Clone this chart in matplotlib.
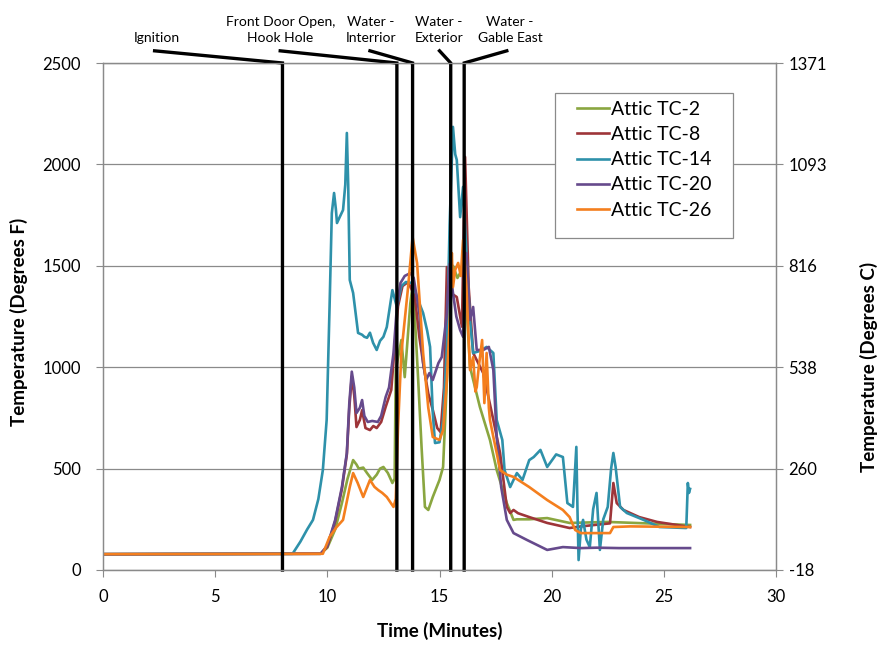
import matplotlib
matplotlib.use('Agg')
import matplotlib.pyplot as plt
from matplotlib.patches import Rectangle

plt.rcParams['font.family'] = ['Lato', 'DejaVu Sans']

# ---------------- data (time in minutes, temperature in deg F) ----------------
series_names = ["Attic TC-2", "Attic TC-8", "Attic TC-14", "Attic TC-20", "Attic TC-26"]
series_colors = ["#8AA640", "#9E3539", "#2E91AA", "#664A8C", "#F47F1E"]

tc2 = [(0, 78), (9.7, 80), (10.0, 110), (10.35, 200), (10.65, 330), (10.9, 450), (11.15, 542),
       (11.3, 520), (11.4, 500), (11.6, 505), (11.77, 478), (12.0, 444), (12.2, 470), (12.35, 500),
       (12.5, 508), (12.7, 478), (12.9, 429), (13.0, 450), (13.05, 986), (13.3, 1134), (13.45, 951),
       (13.7, 1316), (13.8, 1400), (13.9, 1250), (14.05, 937), (14.2, 607), (14.35, 311), (14.5, 296),
       (14.7, 360), (15.0, 444), (15.16, 508), (15.33, 937), (15.47, 1346), (15.6, 1500), (15.8, 1440),
       (16.0, 1480), (16.15, 1400), (16.36, 1001), (16.8, 804), (17.25, 641), (17.55, 493), (18.0, 330),
       (18.3, 247), (18.45, 250), (19.0, 250), (19.8, 256), (20.8, 232), (22.5, 237), (26.17, 222)]

tc8 = [(0, 78), (9.7, 80), (10.0, 115), (10.35, 240), (10.65, 400), (10.87, 570), (10.98, 800),
       (11.09, 955), (11.2, 860), (11.3, 705), (11.45, 740), (11.55, 788), (11.7, 700), (11.9, 690),
       (12.05, 710), (12.2, 700), (12.4, 730), (12.6, 804), (12.85, 888), (13.0, 1100), (13.15, 1300),
       (13.35, 1400), (13.6, 1420), (13.9, 1350), (14.1, 1150), (14.3, 1000), (14.5, 870), (14.7, 790),
       (14.9, 700), (15.05, 680), (15.2, 900), (15.33, 1494), (15.5, 1366), (15.77, 1346), (16.0, 1200),
       (16.14, 2037), (16.3, 1395), (16.5, 1070), (16.95, 971), (17.4, 740), (17.7, 577), (18.0, 311),
       (18.15, 281), (18.3, 296), (18.5, 280), (19.0, 261), (19.8, 232), (20.8, 207), (21.3, 215),
       (22.6, 230), (22.75, 429), (22.9, 330), (23.2, 296), (23.9, 261), (24.7, 237), (26.17, 212)]

tc14 = [(0, 78), (8.45, 80), (8.8, 140), (9.1, 200), (9.36, 247), (9.6, 350), (9.8, 493), (9.97, 740),
        (10.1, 1300), (10.2, 1760), (10.3, 1859), (10.38, 1780), (10.43, 1711), (10.55, 1740),
        (10.7, 1775), (10.8, 1900), (10.87, 2155), (10.93, 1900), (11.0, 1430), (11.15, 1366),
        (11.37, 1169), (11.55, 1160), (11.65, 1150), (11.77, 1145), (11.9, 1170), (12.04, 1120),
        (12.2, 1085), (12.35, 1130), (12.5, 1150), (12.65, 1198), (12.9, 1380), (13.1, 1297),
        (13.3, 1400), (13.5, 1420), (13.8, 1415), (14.05, 1330), (14.27, 1267), (14.45, 1180),
        (14.58, 1100), (14.7, 774), (14.8, 626), (15.0, 630), (15.16, 740), (15.33, 1100), (15.45, 1700),
        (15.6, 2185), (15.7, 2050), (15.77, 2022), (15.92, 1740), (16.05, 1889), (16.2, 1563),
        (16.36, 1233), (16.5, 1070), (16.8, 1080), (17.1, 1100), (17.4, 1070), (17.55, 740), (17.8, 641),
        (17.9, 493), (18.15, 409), (18.3, 444), (18.45, 478), (18.7, 444), (19.0, 542), (19.2, 557),
        (19.5, 592), (19.8, 508), (20.2, 570), (20.5, 557), (20.7, 330), (20.95, 311), (21.1, 607),
        (21.15, 300), (21.2, 49), (21.3, 200), (21.4, 247), (21.55, 150), (21.7, 113), (21.85, 300),
        (22.0, 380), (22.15, 99), (22.3, 250), (22.5, 311), (22.65, 500), (22.75, 577), (22.85, 508),
        (23.05, 311), (23.35, 281), (24.1, 247), (24.8, 212), (26.0, 207), (26.07, 429), (26.12, 380),
        (26.17, 400)]

tc20 = [(0, 78), (9.7, 80), (10.0, 120), (10.35, 247), (10.65, 409), (10.87, 577), (10.98, 823),
        (11.09, 978), (11.2, 900), (11.3, 774), (11.45, 800), (11.55, 838), (11.65, 760), (11.8, 730),
        (12.0, 735), (12.25, 730), (12.4, 760), (12.6, 853), (12.75, 900), (12.95, 1070), (13.1, 1297),
        (13.26, 1415), (13.45, 1450), (13.7, 1464), (13.85, 1440), (14.1, 1267), (14.27, 1020),
        (14.4, 937), (14.55, 971), (14.7, 937), (14.95, 1020), (15.1, 1050), (15.33, 1267), (15.45, 1510),
        (15.6, 1366), (15.75, 1250), (15.92, 1183), (16.05, 1150), (16.2, 1563), (16.36, 1233),
        (16.5, 1297), (16.66, 1085), (16.95, 1085), (17.2, 1100), (17.4, 986), (17.55, 656), (17.75, 409),
        (18.0, 247), (18.3, 182), (18.9, 148), (19.8, 99), (20.5, 113), (21.3, 108), (22.0, 110),
        (23.0, 108), (26.17, 108)]

tc26 = [(0, 78), (9.8, 80), (10.1, 163), (10.4, 210), (10.7, 247), (11.0, 409), (11.15, 478),
        (11.35, 430), (11.6, 360), (11.9, 444), (12.1, 410), (12.27, 394), (12.45, 380), (12.65, 360),
        (12.95, 311), (13.05, 350), (13.15, 700), (13.3, 1070), (13.6, 1395), (13.8, 1642), (14.0, 1514),
        (14.27, 1070), (14.5, 800), (14.7, 656), (15.0, 641), (15.16, 690), (15.33, 937), (15.47, 1267),
        (15.55, 1563), (15.6, 1395), (15.7, 1480), (15.83, 1514), (15.95, 1450), (16.05, 1627),
        (16.2, 1395), (16.36, 986), (16.5, 1050), (16.6, 880), (16.66, 902), (16.75, 1000), (16.9, 1134),
        (17.0, 823), (17.1, 1070), (17.2, 800), (17.25, 740), (17.4, 656), (17.55, 577), (17.7, 493),
        (18.0, 470), (18.3, 459), (19.0, 409), (19.8, 345), (20.5, 296), (20.8, 261), (21.05, 197),
        (21.3, 182), (22.6, 182), (22.75, 212), (23.5, 215), (26.17, 212)]

series_data = [tc2, tc8, tc14, tc20, tc26]

event_labels = ["Ignition", "Front Door Open,\nHook Hole", "Water -\nInterrior",
                "Water -\nExterior", "Water -\nGable East"]
event_times = [8.0, 13.1, 13.8, 15.5, 16.1]

f_ticks = [0, 500, 1000, 1500, 2000, 2500]
c_tick_labels = ["-18", "260", "538", "816", "1093", "1371"]
x_ticks = [0, 5, 10, 15, 20, 25, 30]

# ---------------- layout ----------------
label_x = [2.4, 7.9, 11.95, 14.98, 18.15]   # label centres (minutes)
conn_x = [2.3, 7.9, 11.9, 15.0, 18.0]       # connector start (minutes)

W, H = 883, 647
fig = plt.figure(figsize=(W / 100, H / 100), dpi=100)
ax = fig.add_axes([103 / W, 1 - 570 / H, 673 / W, 507 / H])
ax.set_xlim(0, 30)
ax.set_ylim(0, 2500)
ax.set_xticks(x_ticks)
ax.set_yticks(f_ticks)
ax.yaxis.grid(True, color='#8a8a8a', lw=0.9)
ax.set_axisbelow(True)
grey = '#8a8a8a'
for sp in ax.spines.values():
    sp.set_color(grey)
    sp.set_linewidth(0.9)
ax.tick_params(direction='out', length=5, color=grey, labelsize=12)
ax.tick_params(axis='y', pad=11)
ax.tick_params(axis='x', pad=9)

handles = []
for name, data, col in zip(series_names, series_data, series_colors):
    t = [p[0] for p in data]
    v = [p[1] for p in data]
    ln, = ax.plot(t, v, color=col, lw=1.9, label=name, zorder=2, solid_joinstyle='round')
    handles.append(ln)

for lab, et, lx, cx in zip(event_labels, event_times, label_x, conn_x):
    ax.plot([cx, et, et], [2560, 2500, 0], color='black', lw=2.4, zorder=3,
            clip_on=False, solid_joinstyle='miter')
    ax.text(lx, 2592, lab, ha='center', va='bottom', fontsize=10, linespacing=1.4)

ax.set_xlabel('Time (Minutes)', fontsize=13.5, fontweight='bold')
ax.xaxis.set_label_coords(0.5, -0.103)
ax.set_ylabel('Temperature (Degrees F)', fontsize=13.5, fontweight='bold')
ax.yaxis.set_label_coords(-0.111, 0.49)

ax2 = ax.twinx()
ax2.set_ylim((0 - 32) * 5 / 9, (2500 - 32) * 5 / 9)
ax2.set_yticks([(f - 32) * 5 / 9 for f in f_ticks])
ax2.set_yticklabels(c_tick_labels)
for sp in ax2.spines.values():
    sp.set_color(grey)
    sp.set_linewidth(0.9)
ax2.tick_params(direction='out', length=5, color=grey, labelsize=12, pad=4)
ax2.set_ylabel('Temperature (Degrees C)', fontsize=13.5, fontweight='bold')
ax2.yaxis.set_label_coords(1.125, 0.40)

# legend box (frame drawn separately for Excel-like padding)
box = Rectangle(((555 - 103) / 673, (570 - 238) / 507), 178 / 673, 145 / 507,
                transform=ax2.transAxes, facecolor='white', edgecolor=grey, lw=0.9, zorder=5)
ax2.add_patch(box)
leg = ax2.legend(handles, series_names, loc='upper left',
                 bbox_to_anchor=((577 - 103) / 673, (570 - 101) / 507), borderaxespad=0,
                 borderpad=0, fontsize=14, frameon=False, handlelength=1.65,
                 handletextpad=0.1, labelspacing=0.42)
leg.set_zorder(6)

fig.savefig('out.png', dpi=100)
